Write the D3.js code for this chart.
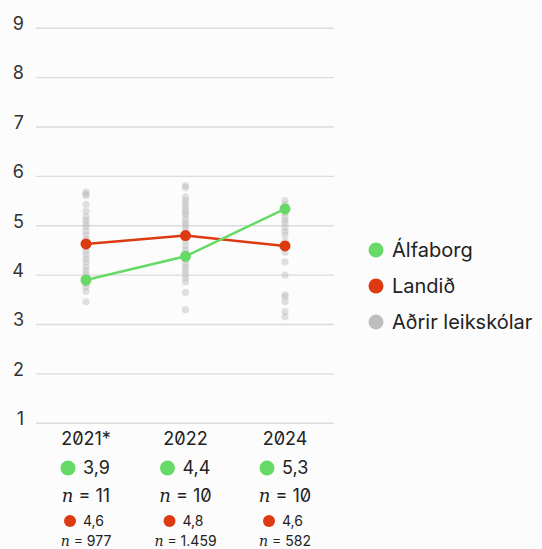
<!DOCTYPE html>
<html>
<head>
<meta charset="utf-8">
<script src="https://cdn.jsdelivr.net/npm/d3@7"></script>
<style>
  body { margin: 0; background: #fcfcfc; }
  svg { font-family: Inter, "Noto Sans", sans-serif; font-feature-settings: "zero"; }
</style>
</head>
<body>
<div id="chart"></div>
<script>
// data
const years = ["2021*", "2022", "2024"];
const skoli = [3.89, 4.37, 5.33];        // Álfaborg
const landid = [4.62, 4.79, 4.58];       // Landið
const skoliLabels = ["3,9", "4,4", "5,3"];
const skoliN = ["11", "10", "10"];
const landidLabels = ["4,6", "4,8", "4,6"];
const landidN = ["977", "1.459", "582"];
const yTicks = [1, 2, 3, 4, 5, 6, 7, 8, 9];
const adrir2021 = [5.67, 5.63, 5.60, 5.42, 5.28, 5.17, 5.10, 5.03, 4.97, 4.88, 4.80, 4.72, 4.65, 4.55, 4.48, 4.40, 4.32, 4.25, 4.15, 4.08, 4.00, 3.95, 3.88, 3.82, 3.75, 3.66, 3.45];
const adrir2022 = [5.80, 5.76, 5.57, 5.50, 5.43, 5.37, 5.30, 5.25, 5.20, 5.12, 5.05, 5.00, 4.93, 4.85, 4.75, 4.68, 4.58, 4.50, 4.42, 4.30, 4.22, 4.15, 4.08, 4.00, 3.93, 3.85, 3.64, 3.29];
const adrir2024 = [5.50, 5.42, 5.34, 5.25, 5.17, 5.10, 5.04, 4.95, 4.87, 4.80, 4.68, 4.57, 4.45, 4.26, 3.99, 3.59, 3.55, 3.45, 3.25, 3.15];
const legendItems = ["Álfaborg", "Landið", "Aðrir leikskólar"];

const green = "#66d966", red = "#dd3a12", grey = "#bdbdbd";

let svg = d3.select("#chart").append("svg")
  .attr("width", 542)
  .attr("height", 549)

let x = d3.scalePoint().domain(years).range([86, 285])
let y = d3.scaleLinear().domain([1, 9]).range([422.7, 27.7])

// gridlines + tick labels
let axis = svg.append("g")
  .attr("transform", "translate(36,0)")
  .call(d3.axisRight(y).tickValues(yTicks).tickSize(298).tickFormat(d3.format("d")))
axis.select(".domain").remove()
axis.selectAll(".tick line").attr("stroke", "#dcdcdc").attr("stroke-width", 1.4)
axis.selectAll(".tick text")
  .attr("x", -12).attr("dy", "0.1em")
  .attr("text-anchor", "end")
  .style("font-size", "18px")
  .style("font-family", "Inter, sans-serif")
  .attr("fill", "#333")

// other schools
let adrir = [adrir2021, adrir2022, adrir2024]
years.forEach((yr, i) => {
  svg.append("g").selectAll("circle")
    .data(adrir[i])
    .enter()
    .append("circle")
    .attr("cx", x(yr))
    .attr("cy", d => y(d))
    .attr("r", 3.6)
    .attr("fill", grey)
    .attr("opacity", 0.45)
})

let line = d3.line()
  .x((d, i) => x(years[i]))
  .y(d => y(d))

function series(vals, color) {
  svg.append("path")
    .attr("d", line(vals))
    .attr("fill", "none")
    .attr("stroke", color)
    .attr("stroke-width", 2.5)
  svg.append("g").selectAll("circle")
    .data(vals)
    .enter()
    .append("circle")
    .attr("cx", (d, i) => x(years[i]))
    .attr("cy", d => y(d))
    .attr("r", 5.5)
    .attr("fill", color)
}
series(landid, red)
series(skoli, green)

// labels below the chart
let cols = svg.append("g").selectAll("g")
  .data(years)
  .enter()
  .append("g")
  .attr("transform", d => `translate(${x(d)},0)`)

cols.append("text")
  .attr("y", 445).attr("text-anchor", "middle")
  .style("font-size", "18px").attr("fill", "#222")
  .text(d => d)

cols.append("circle").attr("cx", -18).attr("cy", 468).attr("r", 7.5).attr("fill", green)
cols.append("text")
  .attr("x", -3).attr("y", 473.5)
  .style("font-size", "18px").attr("fill", "#222")
  .text((d, i) => skoliLabels[i])

let nRow = cols.append("text")
  .attr("y", 502).attr("text-anchor", "middle")
  .style("font-size", "18px").attr("fill", "#222")
nRow.append("tspan").style("font-family", "'DejaVu Serif', serif").style("font-style", "italic").text("n")
nRow.append("tspan").text((d, i) => " = " + skoliN[i])

cols.append("circle").attr("cx", -16).attr("cy", 521).attr("r", 6).attr("fill", red)
cols.append("text")
  .attr("x", -3).attr("y", 526)
  .style("font-size", "14px").attr("fill", "#222")
  .text((d, i) => landidLabels[i])

let nRow2 = cols.append("text")
  .attr("y", 545.5).attr("text-anchor", "middle")
  .style("font-size", "14px").attr("fill", "#222")
nRow2.append("tspan").style("font-family", "'DejaVu Serif', serif").style("font-style", "italic").text("n")
nRow2.append("tspan").text((d, i) => " = " + landidN[i])

// legend
let legend = svg.append("g").selectAll("g")
  .data(legendItems)
  .enter()
  .append("g")
  .attr("transform", (d, i) => `translate(376,${250 + i * 36})`)
legend.append("circle").attr("r", 7.5).attr("fill", (d, i) => [green, red, grey][i])
legend.append("text")
  .attr("x", 16).attr("y", 7)
  .style("font-size", "20px").attr("fill", "#222")
  .text(d => d)
</script>
</body>
</html>
